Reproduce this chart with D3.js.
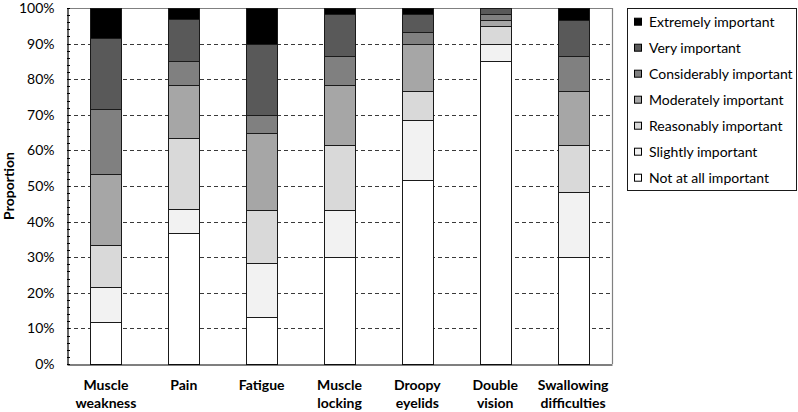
<!DOCTYPE html>
<html>
<head>
<meta charset="utf-8">
<script src="https://cdn.jsdelivr.net/npm/d3@7"></script>
<style>
  html, body { margin: 0; padding: 0; background: #fff; }
  svg { display: block; }
  text { font-family: Lato, "Open Sans", sans-serif; fill: #000; }
</style>
</head>
<body>
<svg id="chart" width="798" height="412"></svg>
<script>
// ---- data (percent of respondents) ----
const categories = [["Muscle", "weakness"], ["Pain"], ["Fatigue"], ["Muscle", "locking"], ["Droopy", "eyelids"], ["Double", "vision"], ["Swallowing", "difficulties"]];
const levels = ["Not at all important", "Slightly important", "Reasonably important", "Moderately important", "Considerably important", "Very important", "Extremely important"];
const notAtAll     = [11.7, 36.7, 13.3, 30.0, 51.7, 85.0, 30.0];
const slightly     = [10.0,  6.7, 15.0, 13.3, 16.7,  5.0, 18.3];
const reasonably   = [11.7, 20.0, 15.0, 18.3,  8.3,  5.0, 13.3];
const moderately   = [20.0, 15.0, 21.7, 16.7, 13.3,  1.7, 15.0];
const considerably = [18.3,  6.7,  5.0,  8.3,  3.3,  1.7, 10.0];
const very         = [20.0, 11.7, 20.0, 11.7,  5.0,  1.7, 10.0];
const extremely    = [ 8.3,  3.3, 10.0,  1.7,  1.7,  0.0,  3.3];
const yTicks = [0, 10, 20, 30, 40, 50, 60, 70, 80, 90, 100];
const colors = ["#ffffff", "#f2f2f2", "#d9d9d9", "#a6a6a6", "#808080", "#595959", "#000000"];

const seriesValues = [notAtAll, slightly, reasonably, moderately, considerably, very, extremely];
const catKeys = categories.map(c => c.join(" "));
const rows = catKeys.map((k, i) => {
  const r = { cat: k };
  levels.forEach((l, j) => r[l] = seriesValues[j][i]);
  return r;
});

const svg = d3.select("#chart");
const margin = { left: 67, right: 186, top: 8, bottom: 48 };
const W = 798, H = 412;
const x = d3.scaleBand().domain(catKeys).range([margin.left, W - margin.right]).paddingInner(0.6).paddingOuter(0.3);
const y = d3.scaleLinear().domain([0, 100]).range([H - margin.bottom, margin.top]);

// gridlines
svg.append("g").selectAll("line").data(yTicks.filter(t => t > 0 && t < 100)).join("line")
  .attr("x1", margin.left).attr("x2", W - margin.right)
  .attr("y1", d => Math.round(y(d)) + 0.5).attr("y2", d => Math.round(y(d)) + 0.5)
  .attr("stroke", "#3a3a3a").attr("stroke-width", 1).attr("stroke-dasharray", "4,3");

// plot border (top & right)
svg.append("path")
  .attr("d", `M${margin.left},${Math.round(y(100)) + 0.5}H${W - margin.right + 0.5}V${Math.round(y(0))}`)
  .attr("fill", "none").attr("stroke", "#808080").attr("stroke-width", 1.2);

// stacked bars
const stack = d3.stack().keys(levels)(rows);
const g = svg.append("g");
stack.forEach((layer, j) => {
  g.selectAll(null).data(layer).join("rect")
    .attr("x", d => Math.round(x(d.data.cat)) + 0.5)
    .attr("width", Math.round(x.bandwidth()))
    .attr("y", d => Math.round(y(d[1])) + 0.5)
    .attr("height", d => Math.max(0, Math.round(y(d[0])) - Math.round(y(d[1]))))
    .attr("fill", colors[j])
    .attr("stroke", "#1a1a1a").attr("stroke-width", 1)
    .style("display", d => d[1] - d[0] > 0 ? null : "none");
});

// y axis
const yAxis = svg.append("g").attr("transform", `translate(${margin.left + 0.5},0)`)
  .call(d3.axisLeft(y).tickValues(yTicks).tickFormat(d => d + "%").tickSize(0).tickPadding(13));
yAxis.select(".domain").attr("stroke", "#000").attr("stroke-width", 1.2);
yAxis.selectAll("text").attr("font-size", 14);
// minor ticks every 2%
svg.append("g").selectAll("line").data(d3.range(0, 101, 2)).join("line")
  .attr("x1", margin.left).attr("x2", margin.left + 3)
  .attr("y1", d => Math.round(y(d)) + 0.5).attr("y2", d => Math.round(y(d)) + 0.5)
  .attr("stroke", "#000").attr("stroke-width", 1);

// x axis
const xAxis = svg.append("g").attr("transform", `translate(0,${Math.round(y(0)) + 0.5})`)
  .call(d3.axisBottom(x).tickSize(0).tickFormat(""));
xAxis.select(".domain").attr("stroke", "#000").attr("stroke-width", 1.2);
xAxis.selectAll(".tick").each(function(d, i) {
  const t = d3.select(this).append("text").attr("fill", "#000")
    .attr("font-size", 14).attr("font-weight", "bold")
    .attr("text-anchor", "middle").attr("y", 25);
  categories[i].forEach((line, k) => t.append("tspan").attr("x", 0).attr("dy", k === 0 ? 0 : 18).text(line));
});

// y title
svg.append("text").attr("transform", `translate(14,${(y(0) + y(100)) / 2}) rotate(-90)`)
  .attr("text-anchor", "middle").attr("font-size", 14).attr("font-weight", "bold").text("Proportion");

// legend
const lg = svg.append("g");
lg.append("rect").attr("x", 627.5).attr("y", 8.5).attr("width", 169).attr("height", 182)
  .attr("fill", "#fff").attr("stroke", "#1a1a1a").attr("stroke-width", 1);
const legendOrder = levels.slice().reverse();
const li = lg.selectAll("g.item").data(legendOrder).join("g").attr("class", "item")
  .attr("transform", (d, i) => `translate(634,${21.7 + i * 26})`);
li.append("rect").attr("x", 0.5).attr("y", -3.5).attr("width", 7).attr("height", 7)
  .attr("fill", (d, i) => colors[colors.length - 1 - i]).attr("stroke", "#000").attr("stroke-width", 1);
li.append("text").attr("x", 15).attr("y", 0).attr("dy", "0.35em").attr("font-size", 14).text(d => d);
</script>
</body>
</html>
